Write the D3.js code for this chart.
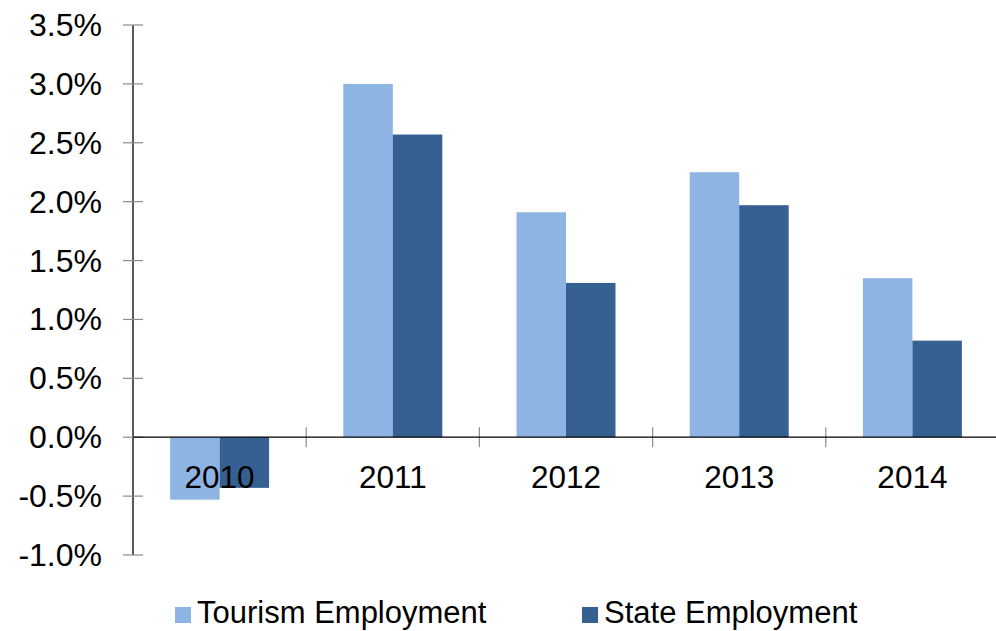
<!DOCTYPE html>
<html>
<head>
<meta charset="utf-8">
<script src="https://cdn.jsdelivr.net/npm/d3@7"></script>
<style>
  html, body { margin: 0; padding: 0; background: #fff; }
  svg { display: block; font-family: "Liberation Sans", Arial, sans-serif; }
</style>
</head>
<body>
<svg id="chart" width="996" height="631"></svg>
<script>
// Annual employment growth by year
const years = ["2010", "2011", "2012", "2013", "2014"];
const seriesNames = ["Tourism Employment", "State Employment"];
const tourismGrowth = [-0.53, 3.00, 1.91, 2.25, 1.35];
const stateGrowth = [-0.43, 2.57, 1.31, 1.97, 0.82];
const yTicks = [-1.0, -0.5, 0.0, 0.5, 1.0, 1.5, 2.0, 2.5, 3.0, 3.5];
const colors = ["#8EB4E3", "#366092"];

const values = [tourismGrowth, stateGrowth];
const rows = years.map((yr, i) => ({
  year: yr,
  vals: seriesNames.map((s, k) => ({ key: s, value: values[k][i], idx: k }))
}));

const svg = d3.select("#chart");
const plotLeft = 133, plotRight = 999, plotTop = 25, plotBottom = 555;

const x = d3.scaleBand().domain(years).range([plotLeft, plotRight]).paddingInner(0).paddingOuter(0);
const xs = d3.scaleBand().domain(seriesNames).range([0, x.bandwidth()]).paddingInner(0).paddingOuter(0.75);
const y = d3.scaleLinear().domain([-1, 3.5]).range([plotBottom, plotTop]);

// Bars
const groups = svg.append("g").selectAll("g").data(rows).join("g")
  .attr("transform", d => `translate(${x(d.year)},0)`);
groups.selectAll("rect").data(d => d.vals).join("rect")
  .attr("x", d => xs(d.key))
  .attr("width", xs.bandwidth())
  .attr("y", d => y(Math.max(0, d.value)))
  .attr("height", d => Math.abs(y(d.value) - y(0)))
  .attr("fill", d => colors[d.idx]);

// Y axis
const pct = v => v.toFixed(1) + "%";
const yAxis = svg.append("g");
yAxis.append("line")
  .attr("x1", plotLeft).attr("x2", plotLeft)
  .attr("y1", y(3.5)).attr("y2", y(-1))
  .attr("stroke", "#000").attr("stroke-width", 1.3);
yAxis.selectAll("line.tick").data(yTicks).join("line")
  .attr("class", "tick")
  .attr("x1", plotLeft - 10).attr("x2", plotLeft + 10)
  .attr("y1", d => y(d)).attr("y2", d => y(d))
  .attr("stroke", "#8c8c8c").attr("stroke-width", 1.2);
yAxis.selectAll("text").data(yTicks).join("text")
  .attr("x", 102)
  .attr("y", d => y(d) + 11)
  .attr("text-anchor", "end")
  .attr("font-size", 32)
  .attr("fill", "#000")
  .text(pct);

// Category axis along zero
const boundaries = years.slice(1).map(yr => x(yr));
svg.append("g").selectAll("line").data(boundaries).join("line")
  .attr("x1", d => d).attr("x2", d => d)
  .attr("y1", y(0) - 10).attr("y2", y(0) + 10)
  .attr("stroke", "#8c8c8c").attr("stroke-width", 1.2);
svg.append("line")
  .attr("x1", plotLeft).attr("x2", plotRight)
  .attr("y1", y(0)).attr("y2", y(0))
  .attr("stroke", "#000").attr("stroke-width", 1.3);
svg.append("g").selectAll("text").data(years).join("text")
  .attr("x", d => x(d) + x.bandwidth() / 2)
  .attr("y", y(0) + 51)
  .attr("text-anchor", "middle")
  .attr("font-size", 31.5)
  .attr("fill", "#000")
  .text(d => d);

// Legend
const legendX = [175, 582];
const legend = svg.append("g").selectAll("g").data(seriesNames).join("g")
  .attr("transform", (d, i) => `translate(${legendX[i]},607)`);
legend.append("rect")
  .attr("width", 16).attr("height", 16)
  .attr("fill", (d, i) => colors[i]);
legend.append("text")
  .attr("x", 22).attr("y", 16)
  .attr("font-size", 31)
  .attr("fill", "#000")
  .text(d => d);
</script>
</body>
</html>
